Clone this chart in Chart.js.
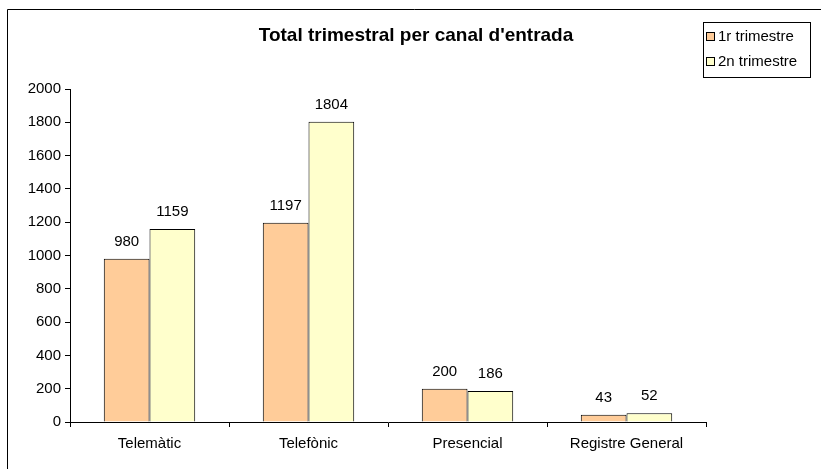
<!DOCTYPE html>
<html>
<head>
<meta charset="utf-8">
<script src="https://cdn.jsdelivr.net/npm/chart.js@4/dist/chart.umd.min.js"></script>
<style>
  html, body { margin: 0; padding: 0; background: #fff; }
  #wrap { width: 821px; height: 469px; position: relative; }
</style>
</head>
<body>
<div id="wrap"><canvas id="canal-graph" width="821" height="469"></canvas></div>
<script>
var titleText = "Total trimestral per canal d'entrada";
var canals = ["Telemàtic", "Telefònic", "Presencial", "Registre General"];
var trimestre1 = [980, 1197, 200, 43];
var trimestre2 = [1159, 1804, 186, 52];
var yTicks = [0, 200, 400, 600, 800, 1000, 1200, 1400, 1600, 1800, 2000];

var FONT = "Liberation Sans, Arial, sans-serif";

// frame, title, legend and value labels
var decorPlugin = {
    id: "decor",
    beforeDraw: function (chart) {
        var ctx = chart.ctx;
        ctx.save();
        ctx.fillStyle = "#fff";
        ctx.fillRect(0, 0, chart.width, chart.height);
        ctx.strokeStyle = "#000";
        ctx.lineWidth = 1;
        ctx.beginPath();
        ctx.moveTo(7.5, chart.height);
        ctx.lineTo(7.5, 9.5);
        ctx.lineTo(chart.width, 9.5);
        ctx.stroke();
        ctx.restore();
    },
    afterDatasetsDraw: function (chart) {
        var ctx = chart.ctx;
        ctx.save();
        ctx.fillStyle = "#000";
        ctx.font = "15px " + FONT;
        ctx.textAlign = "center";
        ctx.textBaseline = "alphabetic";
        chart.data.datasets.forEach(function (ds, i) {
            chart.getDatasetMeta(i).data.forEach(function (bar, j) {
                ctx.fillText(String(ds.data[j]), bar.x, bar.y - 13);
            });
        });
        ctx.restore();
    },
    afterDraw: function (chart) {
        var ctx = chart.ctx;
        ctx.save();
        // title
        ctx.fillStyle = "#000";
        ctx.font = "bold 19px " + FONT;
        ctx.textAlign = "center";
        ctx.textBaseline = "middle";
        ctx.fillText(titleText, 416, 36);
        // legend box
        ctx.strokeStyle = "#000";
        ctx.lineWidth = 1;
        ctx.fillStyle = "#fff";
        ctx.fillRect(703.5, 22.5, 107, 55);
        ctx.strokeRect(703.5, 22.5, 107, 55);
        ctx.font = "15px " + FONT;
        ctx.textAlign = "left";
        chart.data.datasets.forEach(function (ds, i) {
            var y = 37 + i * 25;
            ctx.fillStyle = ds.backgroundColor;
            ctx.fillRect(706.5, y - 4.5, 8, 8);
            ctx.strokeRect(706.5, y - 4.5, 8, 8);
            ctx.fillStyle = "#000";
            ctx.fillText(ds.label, 718, y);
        });
        ctx.restore();
    }
};

var ctx = document.getElementById("canal-graph").getContext("2d");
var chart = new Chart(ctx, {
    type: "bar",
    data: {
        labels: canals,
        datasets: [
            {
                label: "1r trimestre",
                data: trimestre1,
                backgroundColor: "#FFCC99",
                borderColor: "#000",
                borderWidth: 1
            },
            {
                label: "2n trimestre",
                data: trimestre2,
                backgroundColor: "#FFFFCC",
                borderColor: "#000",
                borderWidth: 1
            }
        ]
    },
    options: {
        responsive: false,
        animation: false,
        layout: { padding: { left: 0, right: 115, top: 89, bottom: 0 } },
        datasets: {
            bar: { categoryPercentage: 0.575, barPercentage: 1 }
        },
        plugins: {
            legend: { display: false },
            title: { display: false },
            tooltip: { enabled: false }
        },
        scales: {
            x: {
                afterFit: function (s) { s.height = 47; },
                grid: { drawOnChartArea: false, drawTicks: true, tickLength: 5, color: "#000", offset: true },
                border: { color: "#000" },
                ticks: { color: "#000", font: { family: FONT, size: 15 }, padding: 8 }
            },
            y: {
                min: 0,
                max: 2000,
                afterFit: function (s) { s.width = 70; },
                afterBuildTicks: function (s) {
                    s.ticks = yTicks.map(function (v) { return { value: v }; });
                },
                grid: { drawOnChartArea: false, drawTicks: true, tickLength: 5, color: "#000" },
                border: { color: "#000" },
                ticks: {
                    color: "#000",
                    font: { family: FONT, size: 15 },
                    padding: 4,
                    callback: function (v) { return String(v); }
                }
            }
        }
    },
    plugins: [decorPlugin]
});
</script>
</body>
</html>
